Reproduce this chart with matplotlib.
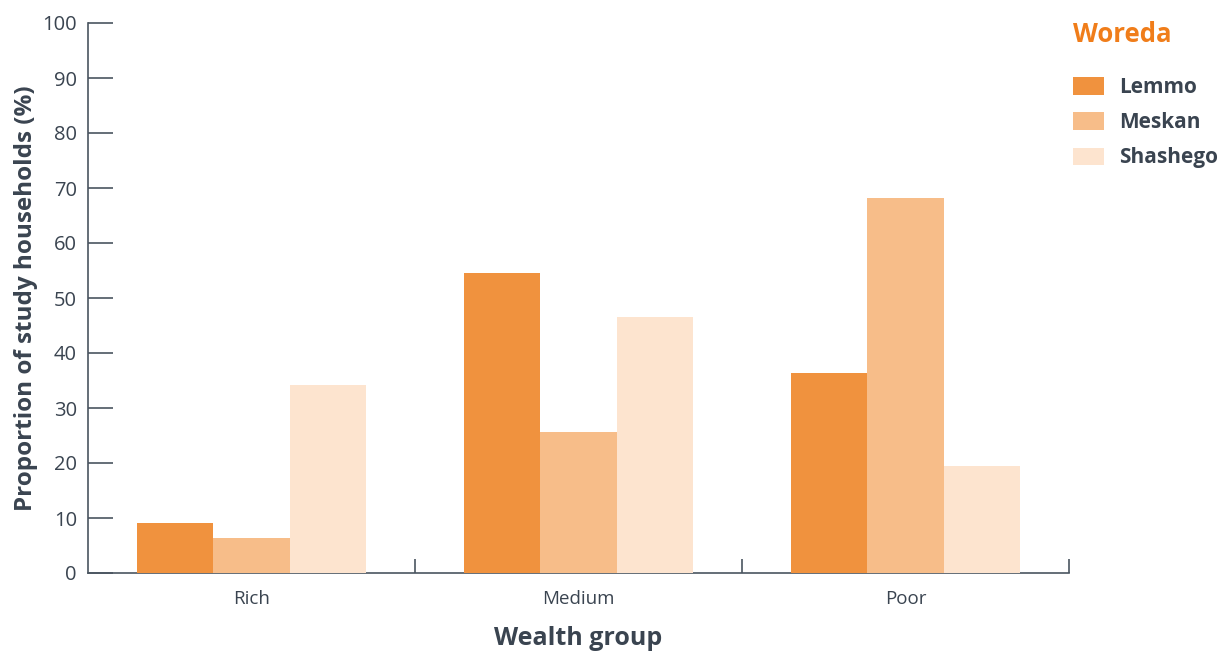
import numpy as np
import matplotlib
matplotlib.use("Agg")
import matplotlib.pyplot as plt
from matplotlib.patches import Patch

plt.rcParams["font.family"] = ["Open Sans", "DejaVu Sans"]

# Data
groups = ["Rich", "Medium", "Poor"]
woredas = ["Lemmo", "Meskan", "Shashego"]
lemmo = [9.1, 54.5, 36.4]
meskan = [6.4, 25.6, 68.2]
shashego = [34.2, 46.5, 19.5]
colors = ["#f0923e", "#f7bd89", "#fde4cf"]

axis_col = "#4a5560"
text_col = "#3a4450"

fig = plt.figure(figsize=(12.21, 6.51), dpi=100)
ax = fig.add_axes([88 / 1221, 78 / 651, (1069 - 88) / 1221, 550 / 651])

x = np.arange(len(groups))
w = 0.234
for i, (vals, c) in enumerate(zip([lemmo, meskan, shashego], colors)):
    ax.bar(x + (i - 1) * w, vals, width=w, color=c, zorder=3)

ax.set_xlim(-0.5, 2.5)
ax.set_ylim(0, 100)
ax.set_yticks(range(0, 101, 10))

# category labels in the middle, tick marks at the boundaries
ax.set_xticks(x)
ax.set_xticklabels(groups, fontsize=13.5, color=text_col)
ax.tick_params(axis="x", which="major", length=0, pad=12)
ax.set_xticks([0.5, 1.5, 2.5], minor=True)
ax.tick_params(axis="x", which="minor", direction="in", length=10, width=1.2, color=axis_col)

ax.tick_params(axis="y", direction="in", length=18, width=1.2, color=axis_col,
               labelsize=14.5, labelcolor=text_col, pad=8)

for s in ["top", "right"]:
    ax.spines[s].set_visible(False)
for s in ["left", "bottom"]:
    ax.spines[s].set_color(axis_col)
    ax.spines[s].set_linewidth(1.2)

ax.set_ylabel("Proportion of study households (%)", fontsize=17.5, fontweight="bold",
              color=text_col, labelpad=3)
ax.set_xlabel("Wealth group", fontsize=18, fontweight="bold", color=text_col, labelpad=13)

handles = [Patch(facecolor=c, edgecolor="none") for c in colors]
leg = fig.legend(handles, woredas, loc="upper left", bbox_to_anchor=(1073 / 1221, 1 - 21 / 651),
                 frameon=False, title="Woreda", alignment="left", borderpad=0, borderaxespad=0,
                 prop={"size": 15, "weight": "bold"}, handlelength=1.5, handleheight=0.91,
                 labelspacing=0.68, handletextpad=0.72)
leg.get_title().set_fontsize(18.5)
leg.get_title().set_fontweight("bold")
leg.get_title().set_color("#f07d1a")
for t in leg.get_texts():
    t.set_color(text_col)
leg._legend_box.sep = 21

fig.savefig("out.png", dpi=100)
